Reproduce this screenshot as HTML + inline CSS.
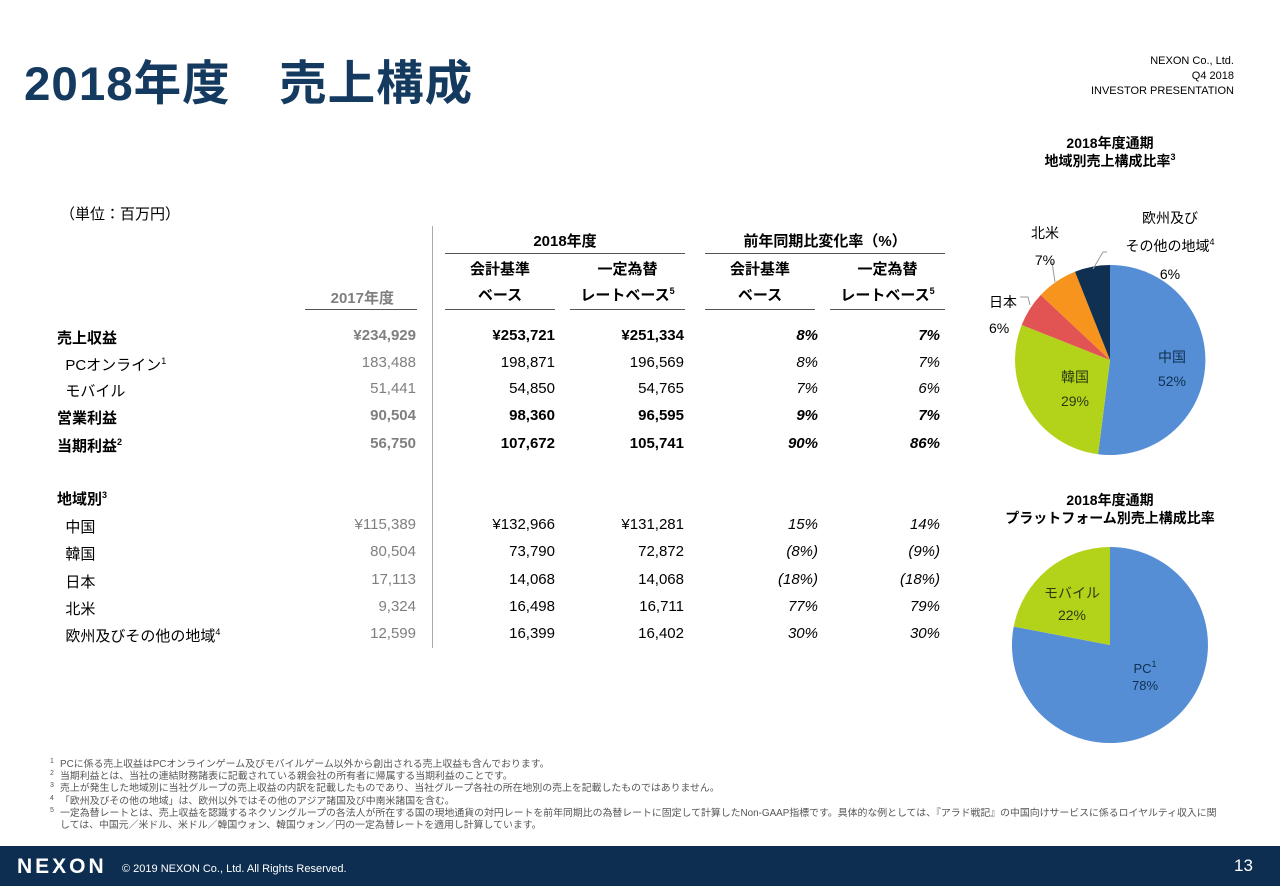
<!DOCTYPE html>
<html><head><meta charset="utf-8">
<style>
body{margin:0;width:1280px;height:886px;background:#fff;position:relative;overflow:hidden;font-family:"Liberation Sans","Noto Sans CJK JP",sans-serif;color:#000}
.a{position:absolute;white-space:nowrap}
.r{text-align:right}
.c{text-align:center}
.t{font-size:15px}
.b{font-weight:bold}
.g{color:#7f7f7f}
.i{font-style:italic}
sup{font-size:9px;vertical-align:6px;line-height:0}
.fn{font-size:9.9px;color:#555;line-height:12.2px}
.fn div{position:relative;padding-left:10px}
.fn span{position:absolute;left:0;top:-3px;font-size:7px}
</style></head><body>
<div class="a b" style="left:24px;top:45px;font-size:47.5px;color:#143a60;letter-spacing:1px">2018年度　売上構成</div>
<div class="a r" style="right:46px;top:54px;font-size:11px;line-height:15px">NEXON Co., Ltd.<br>Q4 2018<br>INVESTOR PRESENTATION</div>

<div class="a" style="left:60px;top:203px;font-size:15px">（単位：百万円）</div>
<div class="a" style="left:432px;top:226px;width:1px;height:422px;background:#aaa"></div>

<div class="a t b c" style="left:445px;top:230px;width:240px">2018年度</div>
<div class="a" style="left:445px;top:253px;width:240px;height:1px;background:#555"></div>
<div class="a t b c" style="left:705px;top:230px;width:240px">前年同期比変化率（%）</div>
<div class="a" style="left:705px;top:253px;width:240px;height:1px;background:#555"></div>
<div class="a t b c" style="left:445px;top:258px;width:110px">会計基準</div>
<div class="a t b c" style="left:445px;top:284px;width:110px">ベース</div>
<div class="a t b c" style="left:570px;top:258px;width:115px">一定為替</div>
<div class="a t b c" style="left:570px;top:284px;width:115px">レートベース<sup>5</sup></div>
<div class="a t b c" style="left:705px;top:258px;width:110px">会計基準</div>
<div class="a t b c" style="left:705px;top:284px;width:110px">ベース</div>
<div class="a t b c" style="left:830px;top:258px;width:115px">一定為替</div>
<div class="a t b c" style="left:830px;top:284px;width:115px">レートベース<sup>5</sup></div>
<div class="a t b g r" style="left:300px;top:287px;width:94px">2017年度</div>
<div class="a" style="left:305px;top:309px;width:112px;height:1px;background:#555"></div>
<div class="a" style="left:445px;top:309px;width:110px;height:1px;background:#555"></div>
<div class="a" style="left:570px;top:309px;width:115px;height:1px;background:#555"></div>
<div class="a" style="left:705px;top:309px;width:110px;height:1px;background:#555"></div>
<div class="a" style="left:830px;top:309px;width:115px;height:1px;background:#555"></div>

<div id="rows"></div>
<script>
var R=[[327,"売上収益","¥234,929","¥253,721","¥251,334","8%","7%",1],
[354,"&nbsp;&nbsp;PCオンライン<sup>1</sup>","183,488","198,871","196,569","8%","7%",0],
[380,"&nbsp;&nbsp;モバイル","51,441","54,850","54,765","7%","6%",0],
[407,"営業利益","90,504","98,360","96,595","9%","7%",1],
[435,"当期利益<sup>2</sup>","56,750","107,672","105,741","90%","86%",1],
[488,"地域別<sup>3</sup>","","","","","",1],
[516,"&nbsp;&nbsp;中国","¥115,389","¥132,966","¥131,281","15%","14%",0],
[543,"&nbsp;&nbsp;韓国","80,504","73,790","72,872","(8%)","(9%)",0],
[571,"&nbsp;&nbsp;日本","17,113","14,068","14,068","(18%)","(18%)",0],
[598,"&nbsp;&nbsp;北米","9,324","16,498","16,711","77%","79%",0],
[625,"&nbsp;&nbsp;欧州及びその他の地域<sup>4</sup>","12,599","16,399","16,402","30%","30%",0]];
var h="";R.forEach(function(r){var b=r[7]?" b":"";var y="top:"+r[0]+"px;";
h+='<div class="a t'+b+'" style="left:57px;'+y+'">'+r[1]+'</div>';
h+='<div class="a t g r'+b+'" style="left:300px;width:116px;'+y+'">'+r[2]+'</div>';
h+='<div class="a t r'+b+'" style="left:440px;width:115px;'+y+'">'+r[3]+'</div>';
h+='<div class="a t r'+b+'" style="left:570px;width:114px;'+y+'">'+r[4]+'</div>';
h+='<div class="a t r i'+b+'" style="left:700px;width:118px;'+y+'">'+r[5]+'</div>';
h+='<div class="a t r i'+b+'" style="left:830px;width:110px;'+y+'">'+r[6]+'</div>';});
document.getElementById("rows").innerHTML=h;
</script>

<div class="a b c" style="left:1010px;top:134px;width:200px;font-size:14px;line-height:18px">2018年度通期<br>地域別売上構成比率<sup>3</sup></div>
<div class="a b c" style="left:975px;top:491px;width:270px;font-size:14px;line-height:18px">2018年度通期<br>プラットフォーム別売上構成比率</div>
<svg class="a" style="left:0;top:0" width="1280" height="886">
<path d="M1110,360 L1110,265 A95,95 0 1 1 1098.1,454.2Z" fill="#558ed5"/>
<path d="M1110,360 L1098.1,454.2 A95,95 0 0 1 1021.7,325Z" fill="#b3d31b"/>
<path d="M1110,360 L1021.7,325 A95,95 0 0 1 1040.7,295Z" fill="#e25454"/>
<path d="M1110,360 L1040.7,295 A95,95 0 0 1 1075,271.7Z" fill="#f7941d"/>
<path d="M1110,360 L1075,271.7 A95,95 0 0 1 1110,265Z" fill="#0f3050"/>
<polyline points="1093,269 1103,252 1107,252" fill="none" stroke="#999"/>
<polyline points="1055,282 1052,262" fill="none" stroke="#999"/>
<polyline points="1030,305 1028,297 1020,297" fill="none" stroke="#999"/>
<path d="M1110,645 L1110,547 A98,98 0 1 1 1013.7,626.6Z" fill="#558ed5"/>
<path d="M1110,645 L1013.7,626.6 A98,98 0 0 1 1110,547Z" fill="#b3d31b"/>
</svg>
<div class="a c" style="left:1020px;top:220px;width:50px;font-size:14px;line-height:27px">北米<br>7%</div>
<div class="a c" style="left:1115px;top:204px;width:110px;font-size:14px;line-height:28px">欧州及び<br>その他の地域<sup>4</sup><br>6%</div>
<div class="a" style="left:989px;top:289px;font-size:14px;line-height:26px">日本<br>6%</div>
<div class="a c" style="left:1142px;top:345px;width:60px;font-size:14px;line-height:24px;color:#0f3050">中国<br>52%</div>
<div class="a c" style="left:1045px;top:365px;width:60px;font-size:14px;line-height:24px;color:#2a3a10">韓国<br>29%</div>
<div class="a c" style="left:1037px;top:582px;width:70px;font-size:14px;line-height:22px;color:#2a3a10">モバイル<br>22%</div>
<div class="a c" style="left:1115px;top:660px;width:60px;font-size:13px;line-height:17px;color:#0f3050">PC<sup>1</sup><br>78%</div>

<div class="a fn" style="left:50px;top:759px">
<div><span>1</span>PCに係る売上収益はPCオンラインゲーム及びモバイルゲーム以外から創出される売上収益も含んでおります。</div>
<div><span>2</span>当期利益とは、当社の連結財務諸表に記載されている親会社の所有者に帰属する当期利益のことです。</div>
<div><span>3</span>売上が発生した地域別に当社グループの売上収益の内訳を記載したものであり、当社グループ各社の所在地別の売上を記載したものではありません。</div>
<div><span>4</span>「欧州及びその他の地域」は、欧州以外ではその他のアジア諸国及び中南米諸国を含む。</div>
<div><span>5</span>一定為替レートとは、売上収益を認識するネクソングループの各法人が所在する国の現地通貨の対円レートを前年同期比の為替レートに固定して計算したNon-GAAP指標です。具体的な例としては、『アラド戦記』の中国向けサービスに係るロイヤルティ収入に関</div>
<div>しては、中国元／米ドル、米ドル／韓国ウォン、韓国ウォン／円の一定為替レートを適用し計算しています。</div>
</div>

<div class="a" style="left:0;top:846px;width:1280px;height:40px;background:#0d2e50"></div>
<div class="a b" style="left:17px;top:855px;font-size:21px;color:#fff;letter-spacing:3px">NEXON</div>
<div class="a" style="left:122px;top:863px;font-size:11px;color:#fff">© 2019 NEXON Co., Ltd. All Rights Reserved.</div>
<div class="a" style="left:1234px;top:856px;font-size:17px;color:#fff">13</div>
</body></html>
